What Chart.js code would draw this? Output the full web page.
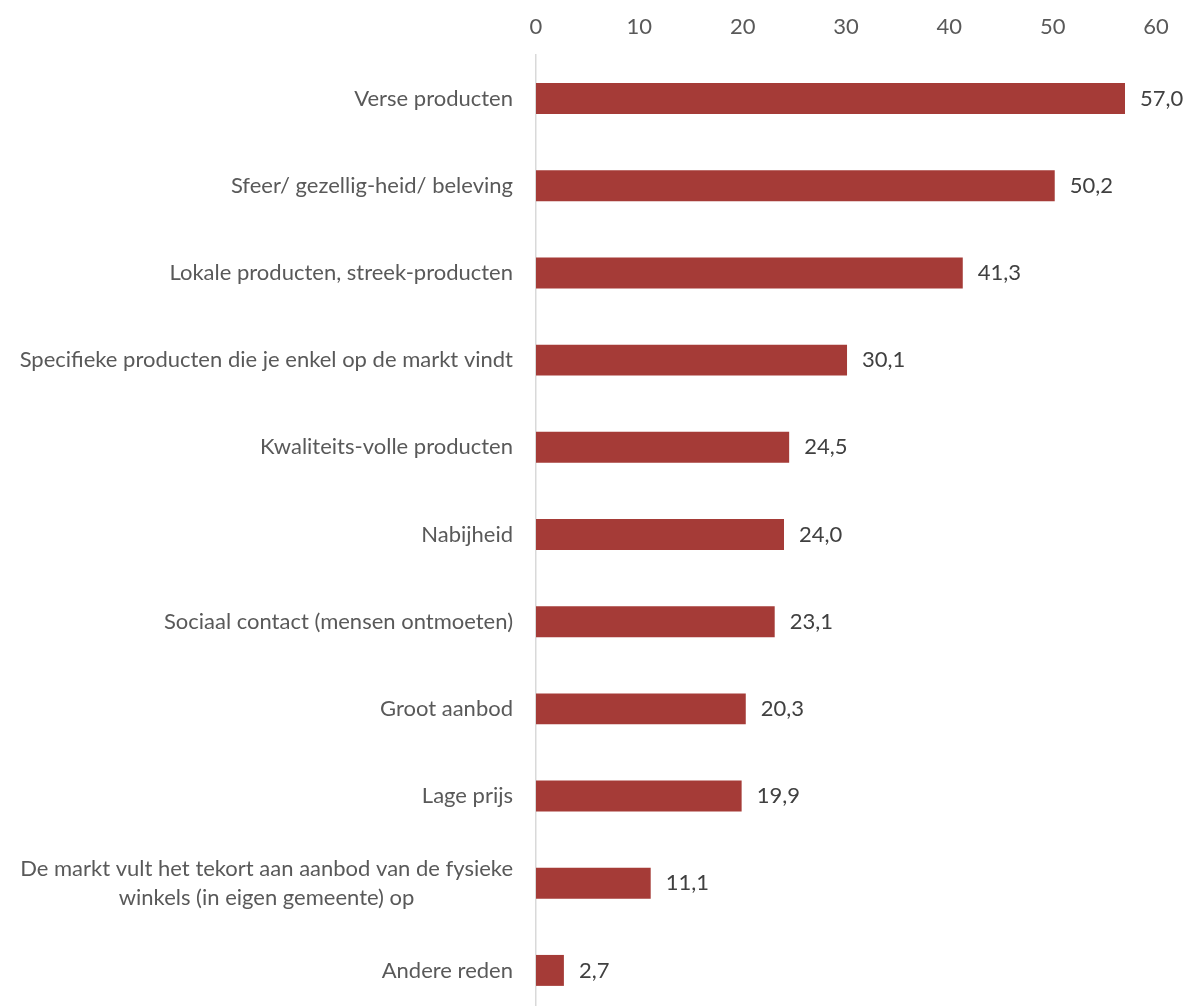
<!DOCTYPE html>
<html>
<head>
<meta charset="utf-8">
<script src="https://cdn.jsdelivr.net/npm/chart.js@4.4.0/dist/chart.umd.min.js"></script>
<style>
  html, body { margin: 0; padding: 0; background: #fff; overflow: hidden; }
  #wrap { width: 1191px; height: 1014px; position: relative; }
</style>
</head>
<body>
<div id="wrap"><canvas id="chart"></canvas></div>
<script>
const categories = [
  "Verse producten",
  "Sfeer/ gezellig-heid/ beleving",
  "Lokale producten, streek-producten",
  "Specifieke producten die je enkel op de markt vindt",
  "Kwaliteits-volle producten",
  "Nabijheid",
  "Sociaal contact (mensen ontmoeten)",
  "Groot aanbod",
  "Lage prijs",
  ["De markt vult het tekort aan aanbod van de fysieke", "winkels (in eigen gemeente) op"],
  "Andere reden",
];
const values = [57.0, 50.2, 41.3, 30.1, 24.5, 24.0, 23.1, 20.3, 19.9, 11.1, 2.7];
const xTicks = [0, 10, 20, 30, 40, 50, 60];

const FONT = "Lato";
const SIZE = 22;
const TEXT = "#595959";

const fmt = v => v.toFixed(1).replace(".", ",");

// category labels: right aligned, wrapped lines centred on each other
const categoryLabels = {
  id: "categoryLabels",
  afterDraw(chart) {
    const { ctx, scales: { y } } = chart;
    ctx.save();
    ctx.font = SIZE + "px " + FONT;
    ctx.fillStyle = TEXT;
    ctx.textBaseline = "middle";
    const right = y.right - 23;
    const lh = 29;
    categories.forEach((label, i) => {
      const yc = y.getPixelForTick(i);
      const lines = Array.isArray(label) ? label : [label];
      const widest = Math.max(...lines.map(l => ctx.measureText(l).width));
      const cx = right - widest / 2;
      lines.forEach((line, j) => {
        const ly = yc + (j - (lines.length - 1) / 2) * lh;
        ctx.textAlign = lines.length > 1 ? "center" : "right";
        ctx.fillText(line, lines.length > 1 ? cx : right, ly);
      });
    });
    ctx.restore();
  },
};

// value labels at the end of each bar
const valueLabels = {
  id: "valueLabels",
  afterDatasetsDraw(chart) {
    const { ctx } = chart;
    const meta = chart.getDatasetMeta(0);
    ctx.save();
    ctx.font = SIZE + "px " + FONT;
    ctx.fillStyle = "#404040";
    ctx.textAlign = "left";
    ctx.textBaseline = "middle";
    meta.data.forEach((bar, i) => {
      ctx.fillText(fmt(values[i]), bar.x + 15, bar.y);
    });
    ctx.restore();
  },
};

new Chart(document.getElementById("chart"), {
  type: "bar",
  data: {
    labels: categories,
    datasets: [{
      data: values,
      backgroundColor: "#A53B37",
      borderWidth: 0,
      barPercentage: 0.355,
      categoryPercentage: 1,
    }],
  },
  options: {
    indexAxis: "y",
    responsive: true,
    maintainAspectRatio: false,
    animation: false,
    layout: { padding: { top: 0, right: 35, bottom: 0, left: 0 } },
    plugins: {
      legend: { display: false },
      tooltip: { enabled: false },
    },
    scales: {
      x: {
        position: "top",
        min: 0,
        max: 60,
        afterBuildTicks: s => { s.ticks = xTicks.map(v => ({ value: v })); },
        afterFit: s => { s.height = 55; },
        grid: { display: false, drawTicks: false },
        border: { display: false },
        ticks: {
          color: TEXT,
          font: { family: FONT, size: SIZE },
          padding: 15,
          maxRotation: 0,
        },
      },
      y: {
        afterFit: s => { s.width = 536; },
        grid: { display: false, drawTicks: false },
        border: { display: true, color: "#D9D9D9", width: 1.5 },
        ticks: { display: false },
      },
    },
  },
  plugins: [categoryLabels, valueLabels],
});
</script>
</body>
</html>
